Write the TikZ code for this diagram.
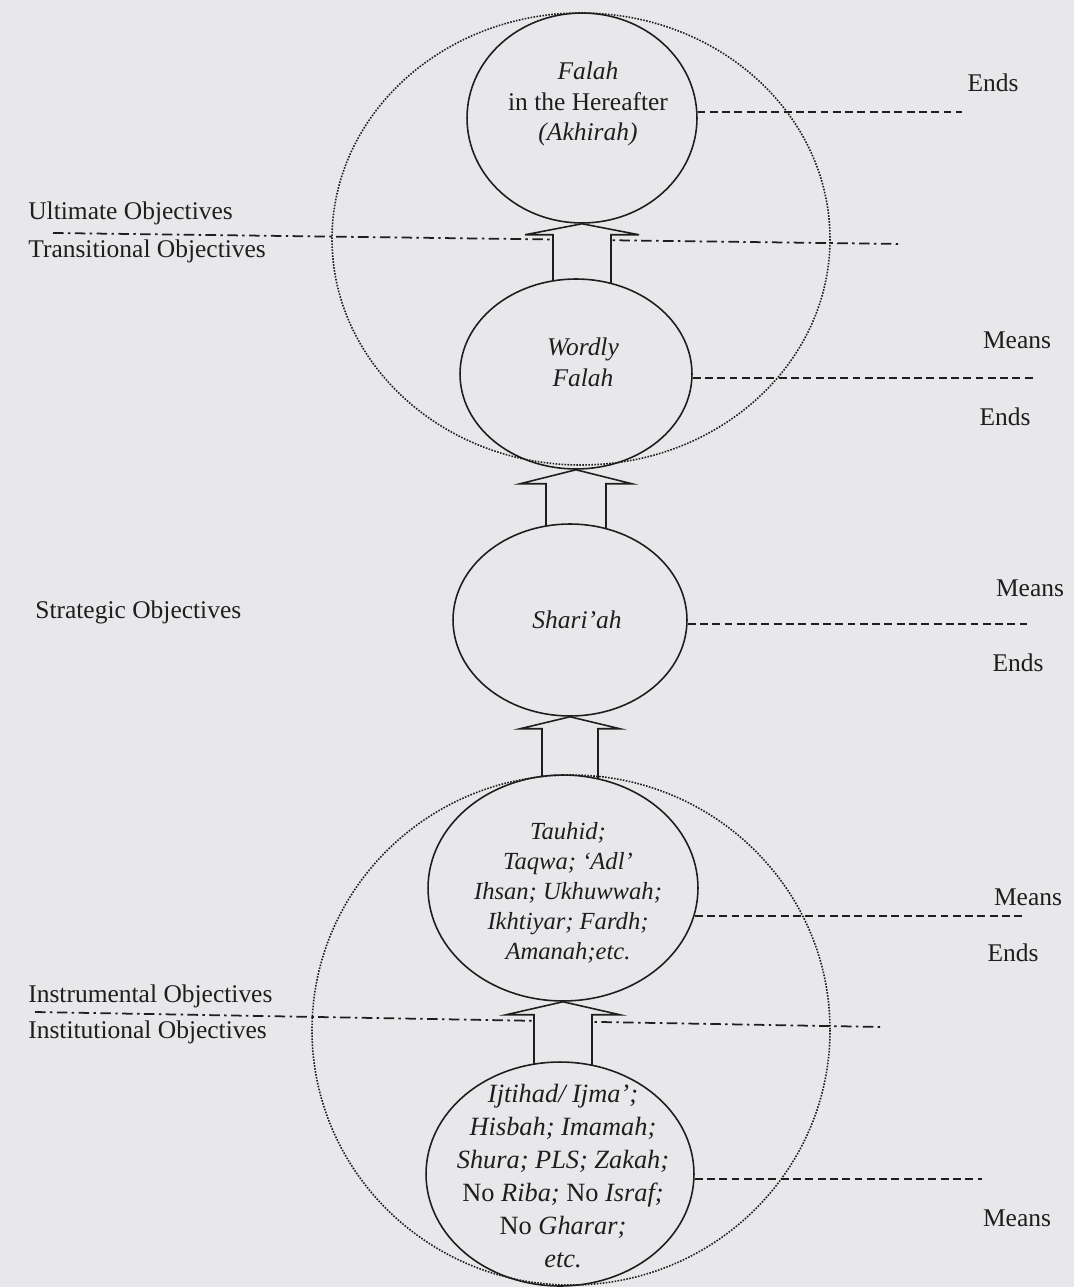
\documentclass[tikz,border=0pt]{standalone}
\usepackage{fontspec}
\setmainfont{Liberation Serif}
\usetikzlibrary{calc, shapes.geometric}

\definecolor{paper}{RGB}{232,232,234}
\definecolor{ink}{RGB}{30,30,30}

\pgfdeclarelayer{back}
\pgfsetlayers{back,main}

\tikzset{
  goal/.style={ellipse, draw=ink, line width=0.9pt, fill=paper, inner sep=0pt},
  ring/.style={draw=ink, line width=0.9pt, dash pattern=on 0.9pt off 0.8pt},
  level/.style={draw=ink, line width=1pt, dash pattern=on 6pt off 2.5pt on 1.4pt off 2.5pt},
  split/.style={draw=ink, line width=1pt, dash pattern=on 4.5pt off 2.5pt},
  side/.style={font=\fontsize{14.5}{17}\selectfont, text=ink, anchor=base west, inner sep=0pt},
  tag/.style={font=\fontsize{14.5}{17}\selectfont, text=ink, inner sep=0pt},
  inside/.style={font=\fontsize{14.5}{17.5}\selectfont\itshape, text=ink, align=center, inner sep=0pt},
  lift/.style={draw=ink, line width=0.9pt, fill=paper, line join=miter},
}

% hollow arrow from the top of #1 up to the bottom of #2
% #3 half shaft, #4 half head, #5 head depth
\newcommand{\liftarrow}[5]{%
  \draw[lift] ($(#1.north -| #2.south)+(-#3,8)$) -- ($(#2.south)+(-#3,#5)$)
    -- ($(#2.south)+(-#4,#5)$) -- (#2.south) -- ($(#2.south)+(#4,#5)$)
    -- ($(#2.south)+(#3,#5)$) -- ($(#1.north -| #2.south)+(#3,8)$);
}

\begin{document}
\begin{tikzpicture}[x=0.02cm, y=-0.02cm]

  % paper
  \begin{pgfonlayer}{back}
    \fill[paper] (0,0) rectangle (1074,1287);
  \end{pgfonlayer}

  % the five stages
  \node[goal, minimum width=4.6cm,  minimum height=4.2cm]  (hereafter) at (582,118) {};
  \node[goal, minimum width=4.64cm, minimum height=3.8cm]  (worldly)   at (576,374) {};
  \node[goal, minimum width=4.68cm, minimum height=3.84cm] (shariah)   at (570,620) {};
  \node[goal, minimum width=5.4cm,  minimum height=4.52cm] (values)    at (563,888) {};
  \node[goal, minimum width=5.36cm, minimum height=4.48cm] (instit)    at (560,1174) {};

  % texts in the stages
  \node[inside] (t1) at (588,104) {Falah\\\upshape in the Hereafter\\(Akhirah)};
  \node[inside] (t2) at (583,362) {Wordly\\Falah};
  \node[inside] (t3) at (577,620) {Shari’ah};
  \node[inside, font=\fontsize{14}{17}\selectfont\itshape] (t4) at (568,893)
    {Tauhid;\\Taqwa; ‘Adl’\\Ihsan; Ukhuwwah;\\Ikhtiyar; Fardh;\\Amanah;etc.};
  \node[inside, font=\fontsize{15}{18.8}\selectfont\itshape] (t5) at (563,1176)
    {Ijtihad/ Ijma’;\\Hisbah; Imamah;\\Shura; PLS; Zakah;\\\upshape No \itshape Riba; \upshape No \itshape Israf;\\\upshape No \itshape Gharar;\\etc.};

  % level lines and arrows (behind)
  \coordinate (u0) at (53,233);
  \coordinate (u1) at (902,244);
  \coordinate (l0) at (35,1012);
  \coordinate (l1) at (883,1027);
  \begin{pgfonlayer}{back}
    \draw[level] (u0) -- (u1);
    \draw[level] (l0) -- (l1);
    \liftarrow{worldly}{hereafter}{29}{57}{11}
    \liftarrow{shariah}{worldly}{30}{56}{14}
    \liftarrow{values}{shariah}{28}{50}{12}
    \liftarrow{instit}{values}{29}{57}{13}
  \end{pgfonlayer}

  % dotted outer rings
  \draw[ring] (581,239) ellipse (249 and 226);
  \draw[ring] (571,1030) ellipse (259 and 255);

  % ends / means lines
  \coordinate (e1) at (962,112);
  \coordinate (e2) at (1037,377);
  \coordinate (e3) at (1027,624);
  \coordinate (e4) at (1025,915);
  \coordinate (e5) at (982,1179);
  \draw[split] (hereafter.3) -- (hereafter.3 -| e1);
  \draw[split] (worldly.-2) -- (worldly.-2 -| e2);
  \draw[split] (shariah.-2) -- (shariah.-2 -| e3);
  \draw[split] (values.-12) -- (values.-12 -| e4);
  \draw[split] (instit.-2) -- (instit.-2 -| e5);

  % right side
  \node[tag] (ends1)  at (993,83)   {Ends};
  \node[tag] (means1) at (1017,340) {Means};
  \node[tag] (ends2)  at (1005,417) {Ends};
  \node[tag] (means2) at (1030,588) {Means};
  \node[tag] (ends3)  at (1018,663) {Ends};
  \node[tag] (means3) at (1028,897) {Means};
  \node[tag] (ends4)  at (1013,953) {Ends};
  \node[tag] (means4) at (1017,1218) {Means};

  % left side
  \node[side] (ultimate)  at (28,220)  {Ultimate Objectives};
  \node[side] (transit)   at (28,258)  {Transitional Objectives};
  \node[side] (strategic) at (35,618)  {Strategic Objectives};
  \node[side] (instrum)   at (28,1002) {Instrumental Objectives};
  \node[side] (institut)  at (28,1038) {Institutional Objectives};

\end{tikzpicture}
\end{document}
